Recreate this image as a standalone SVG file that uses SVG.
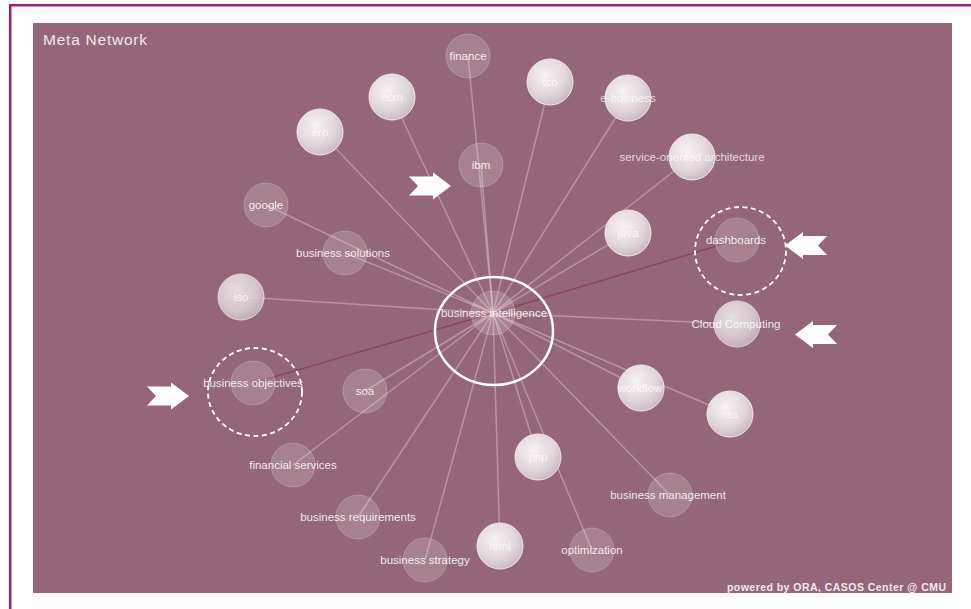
<svg xmlns="http://www.w3.org/2000/svg" width="971" height="609" viewBox="0 0 971 609">
  <defs>
    <radialGradient id="sphere" cx="0.4" cy="0.35" r="0.7">
      <stop offset="0" stop-color="#f7f2f4"/>
      <stop offset="0.6" stop-color="#e2d8dc"/>
      <stop offset="1" stop-color="#c6b6bd"/>
    </radialGradient>
    <polygon id="pointer" points="0,-9.5 24,-9.5 24,-13.5 42,0 24,13.5 24,9.5 0,9.5 9,0"/>
  </defs>
  <style>
    .frame { stroke: #a01f6c; stroke-width: 2.5; fill: none; }
    .plot { fill: #956679; }
    .edge { stroke: #e7c9d3; stroke-opacity: 0.45; stroke-width: 1.5; fill: none; }
    .edge.hot { stroke: #8a3f5e; stroke-opacity: 0.9; }
    .bright { fill: url(#sphere); stroke: #f3e9ed; stroke-width: 1; }
    .dim { fill: #ffffff; fill-opacity: 0.18; stroke: #ffffff; stroke-opacity: 0.22; stroke-width: 1; }
    .lbl { font-family: "Liberation Sans", Arial, sans-serif; font-size: 11.5px; fill: #ffffff; fill-opacity: 0.88; text-anchor: middle; }
    .lbl.on-bright { fill-opacity: 0.75; }
    .ring { fill: none; stroke: #ffffff; stroke-width: 2.5; }
    .dash { fill: none; stroke: #ffffff; stroke-width: 1.8; stroke-dasharray: 5 3.5; }
    .pointer { fill: #ffffff; }
  </style>

  <!-- page frame -->
  <rect width="971" height="609" fill="#ffffff"/>
  <line class="frame" x1="9" y1="5.2" x2="971" y2="5.2"/>
  <line class="frame" x1="10.2" y1="4" x2="10.2" y2="609"/>

  <!-- plot area -->
  <rect class="plot" x="33" y="23" width="919" height="570"/>
  <text x="43" y="45" font-family="'Liberation Sans', Arial, sans-serif" font-size="15.5" fill="#f3e8ec" textLength="104">Meta Network</text>
  <text x="727" y="591" font-family="'Liberation Sans', Arial, sans-serif" font-size="10.5" font-weight="bold" fill="#f3e8ec" textLength="219">powered by ORA, CASOS Center @ CMU</text>

  <!-- connectors: star around the central node -->
  <g id="connectors">
    <line class="edge" x1="493" y1="313" x2="468" y2="56"/>
    <line class="edge" x1="493" y1="313" x2="392" y2="97"/>
    <line class="edge" x1="493" y1="313" x2="550" y2="82"/>
    <line class="edge" x1="493" y1="313" x2="628" y2="98"/>
    <line class="edge" x1="493" y1="313" x2="481" y2="165"/>
    <line class="edge" x1="493" y1="313" x2="320" y2="132"/>
    <line class="edge" x1="493" y1="313" x2="692" y2="157"/>
    <line class="edge" x1="493" y1="313" x2="266" y2="205"/>
    <line class="edge" x1="493" y1="313" x2="345" y2="253"/>
    <line class="edge" x1="493" y1="313" x2="628" y2="233"/>
    <line class="edge hot" x1="493" y1="313" x2="737" y2="240"/>
    <line class="edge" x1="493" y1="313" x2="241" y2="297"/>
    <line class="edge" x1="493" y1="313" x2="737" y2="324"/>
    <line class="edge hot" x1="493" y1="313" x2="253" y2="383"/>
    <line class="edge" x1="493" y1="313" x2="365" y2="391"/>
    <line class="edge" x1="493" y1="313" x2="641" y2="388"/>
    <line class="edge" x1="493" y1="313" x2="730" y2="414"/>
    <line class="edge" x1="493" y1="313" x2="293" y2="465"/>
    <line class="edge" x1="493" y1="313" x2="538" y2="457"/>
    <line class="edge" x1="493" y1="313" x2="670" y2="495"/>
    <line class="edge" x1="493" y1="313" x2="358" y2="517"/>
    <line class="edge" x1="493" y1="313" x2="500" y2="546"/>
    <line class="edge" x1="493" y1="313" x2="592" y2="550"/>
    <line class="edge" x1="493" y1="313" x2="425" y2="560"/>
  </g>

  <!-- nodes -->
  <g id="node-finance"><circle class="dim" cx="468" cy="56" r="22"/><text class="lbl" x="468" y="60">finance</text></g>
  <g id="node-ecm"><circle class="bright" cx="392" cy="97" r="23"/><text class="lbl on-bright" x="392" y="101">ecm</text></g>
  <g id="node-tco"><circle class="bright" cx="550" cy="82" r="23"/><text class="lbl on-bright" x="550" y="86">tco</text></g>
  <g id="node-e-business"><circle class="bright" cx="628" cy="98" r="23"/><text class="lbl on-bright" x="628" y="102">e-business</text></g>
  <g id="node-ibm"><circle class="dim" cx="481" cy="165" r="22"/><text class="lbl" x="481" y="169">ibm</text></g>
  <g id="node-erp"><circle class="bright" cx="320" cy="132" r="23"/><text class="lbl on-bright" x="320" y="136">erp</text></g>
  <g id="node-soa-arch"><circle class="bright" cx="692" cy="157" r="23"/><text class="lbl on-bright" x="692" y="161">service-oriented architecture</text></g>
  <g id="node-google"><circle class="dim" cx="266" cy="205" r="22"/><text class="lbl" x="266" y="209">google</text></g>
  <g id="node-business-solutions"><circle class="dim" cx="345" cy="253" r="22"/><text class="lbl" x="343" y="257">business solutions</text></g>
  <g id="node-java"><circle class="bright" cx="628" cy="233" r="23"/><text class="lbl on-bright" x="628" y="237">java</text></g>
  <g id="node-dashboards"><circle class="dim" cx="737" cy="240" r="22"/><text class="lbl" x="736" y="244">dashboards</text></g>
  <g id="node-iso"><circle class="bright" cx="241" cy="297" r="23" opacity="0.85"/><text class="lbl on-bright" x="241" y="301">iso</text></g>
  <g id="node-business-intelligence"><circle class="dim" cx="493" cy="313" r="22"/><text class="lbl" x="494" y="317">business intelligence</text></g>
  <g id="node-cloud-computing"><circle class="bright" cx="737" cy="324" r="23" opacity="0.85"/><text class="lbl" x="736" y="328">Cloud Computing</text></g>
  <g id="node-business-objectives"><circle class="dim" cx="253" cy="383" r="22"/><text class="lbl" x="253" y="387">business objectives</text></g>
  <g id="node-soa"><circle class="dim" cx="365" cy="391" r="22"/><text class="lbl" x="365" y="395">soa</text></g>
  <g id="node-workflow"><circle class="bright" cx="641" cy="388" r="23"/><text class="lbl on-bright" x="640" y="392">workflow</text></g>
  <g id="node-rss"><circle class="bright" cx="730" cy="414" r="23"/><text class="lbl on-bright" x="730" y="418">rss</text></g>
  <g id="node-financial-services"><circle class="dim" cx="293" cy="465" r="22"/><text class="lbl" x="293" y="469">financial services</text></g>
  <g id="node-php"><circle class="bright" cx="538" cy="457" r="23"/><text class="lbl on-bright" x="538" y="461">php</text></g>
  <g id="node-business-management"><circle class="dim" cx="670" cy="495" r="22"/><text class="lbl" x="668" y="499">business management</text></g>
  <g id="node-business-requirements"><circle class="dim" cx="358" cy="517" r="22"/><text class="lbl" x="358" y="521">business requirements</text></g>
  <g id="node-html"><circle class="bright" cx="500" cy="546" r="23"/><text class="lbl on-bright" x="500" y="550">html</text></g>
  <g id="node-optimization"><circle class="dim" cx="592" cy="550" r="22"/><text class="lbl" x="592" y="554">optimization</text></g>
  <g id="node-business-strategy"><circle class="dim" cx="425" cy="560" r="22"/><text class="lbl" x="425" y="564">business strategy</text></g>

  <!-- highlight rings -->
  <g id="highlights">
    <ellipse class="ring" cx="494" cy="331" rx="59" ry="54"/>
    <ellipse class="dash" cx="740.5" cy="251" rx="45.5" ry="44"/>
    <ellipse class="dash" cx="255" cy="392" rx="47" ry="44"/>
  </g>

  <!-- callout pointers -->
  <g id="pointers" class="pointer">
    <use href="#pointer" transform="translate(409,186)"/>
    <use href="#pointer" transform="translate(147,396)"/>
    <use href="#pointer" transform="translate(827,245.5) scale(-1,1)"/>
    <use href="#pointer" transform="translate(837,334.5) scale(-1,1)"/>
  </g>
</svg>
